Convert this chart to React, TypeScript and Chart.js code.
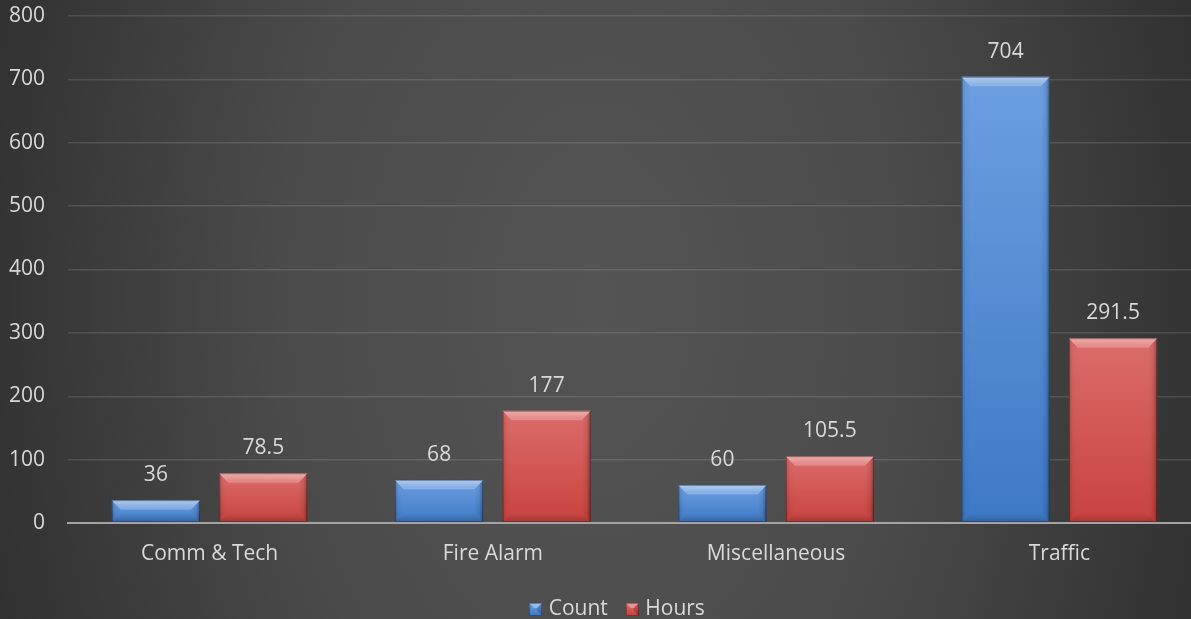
import { useEffect, useRef } from "react";
import { Chart, registerables } from "chart.js";

Chart.register(...registerables);

// Incident summary by category
const categories = ["Comm & Tech", "Fire Alarm", "Miscellaneous", "Traffic"];
const countValues = [36, 68, 60, 704];
const hoursValues = [78.5, 177, 105.5, 291.5];
const seriesNames = ["Count", "Hours"];
const yMin = 0;
const yMax = 800;
const yStep = 100;

const FONT = "'Open Sans', 'DejaVu Sans', sans-serif";
const TEXT = "#d9d9d9";
const FONT_SIZE = 21;
const CANVAS_W = 1201;
const CANVAS_H = 631;

const BLUE_TOP = "#6c9fe0";
const BLUE_BOTTOM = "#3e79c6";
const RED_TOP = "#db6d6b";
const RED_BOTTOM = "#c8423e";

// Per-bar vertical gradient, from the bar's top down to its base
function barFill(top: string, bottom: string) {
  return (ctx: any) => {
    const chart = ctx.chart;
    const y = chart.scales && chart.scales.y;
    if (ctx.type !== "data" || !y || !chart.chartArea) return bottom;
    const y0 = y.getPixelForValue(ctx.raw as number);
    const y1 = y.getPixelForValue(0);
    if (!isFinite(y0) || !isFinite(y1) || y0 === y1) return bottom;
    const g = chart.ctx.createLinearGradient(0, y0, 0, y1);
    g.addColorStop(0, top);
    g.addColorStop(1, bottom);
    return g;
  };
}

// Small bevelled square used as the legend marker
function makeMarker(top: string, bottom: string): HTMLCanvasElement {
  const s = 13;
  const c = document.createElement("canvas");
  c.width = s;
  c.height = s;
  const g = c.getContext("2d")!;
  const lg = g.createLinearGradient(0, 0, 0, s);
  lg.addColorStop(0, top);
  lg.addColorStop(1, bottom);
  g.fillStyle = lg;
  g.fillRect(0, 0, s, s);
  const b = 5;
  g.fillStyle = "rgba(255,255,255,0.35)";
  g.beginPath();
  g.moveTo(0, 0);
  g.lineTo(s, 0);
  g.lineTo(s - b, b);
  g.lineTo(b, b);
  g.closePath();
  g.fill();
  g.fillStyle = "rgba(0,0,0,0.18)";
  g.beginPath();
  g.moveTo(s, 0);
  g.lineTo(s, s);
  g.lineTo(s - b, s - b);
  g.lineTo(s - b, b);
  g.closePath();
  g.fill();
  g.strokeStyle = "rgba(0,0,0,0.35)";
  g.lineWidth = 1;
  g.strokeRect(0.5, 0.5, s - 1, s - 1);
  return c;
}

const backgroundPlugin = {
  id: "darkBackdrop",
  beforeDraw(chart: any) {
    const ctx = chart.ctx as CanvasRenderingContext2D;
    ctx.save();
    ctx.fillStyle = "#2c2c2c";
    ctx.fillRect(0, 0, chart.width, chart.height);
    ctx.translate(595, 300);
    ctx.scale(1, 1.6);
    const rg = ctx.createRadialGradient(0, 0, 0, 0, 0, 690);
    rg.addColorStop(0, "#545454");
    rg.addColorStop(0.45, "#4b4b4b");
    rg.addColorStop(1, "#2c2c2c");
    ctx.fillStyle = rg;
    ctx.fillRect(-700, -400, 1400, 800);
    ctx.restore();
  },
};

// Nudges the legend block right and up a little under the plot
const legendOffsetPlugin = {
  id: "legendOffset",
  afterLayout(chart: any) {
    const l = chart.legend;
    if (!l) return;
    l.left += 37;
    l.top -= 1;
    l.bottom -= 1;
  },
};

const bevelPlugin = {
  id: "bevelBars",
  afterDatasetsDraw(chart: any) {
    const ctx = chart.ctx as CanvasRenderingContext2D;
    chart.data.datasets.forEach((ds: any, di: number) => {
      const meta = chart.getDatasetMeta(di);
      if (meta.hidden) return;
      meta.data.forEach((el: any, i: number) => {
        const { x, y, base, width } = el.getProps(["x", "y", "base", "width"], true);
        const x0 = x - width / 2;
        const x1 = x + width / 2;
        const top = Math.min(y, base);
        const bot = Math.max(y, base);
        const b = Math.min(9, (bot - top) / 2);
        ctx.save();
        // top facet
        const tg = ctx.createLinearGradient(0, top, 0, top + b);
        tg.addColorStop(0, "rgba(255,255,255,0.45)");
        tg.addColorStop(1, "rgba(255,255,255,0.18)");
        ctx.fillStyle = tg;
        ctx.beginPath();
        ctx.moveTo(x0, top);
        ctx.lineTo(x1, top);
        ctx.lineTo(x1 - b, top + b);
        ctx.lineTo(x0 + b, top + b);
        ctx.closePath();
        ctx.fill();
        // right facet
        const rg = ctx.createLinearGradient(x1, 0, x1 - b, 0);
        rg.addColorStop(0, "rgba(0,0,0,0.34)");
        rg.addColorStop(0.45, "rgba(0,0,0,0.08)");
        rg.addColorStop(1, "rgba(0,0,0,0)");
        ctx.fillStyle = rg;
        ctx.beginPath();
        ctx.moveTo(x1, top);
        ctx.lineTo(x1, bot);
        ctx.lineTo(x1 - b, bot - b);
        ctx.lineTo(x1 - b, top + b);
        ctx.closePath();
        ctx.fill();
        // left facet
        const lg = ctx.createLinearGradient(x0, 0, x0 + b, 0);
        lg.addColorStop(0, "rgba(0,0,0,0.16)");
        lg.addColorStop(0.45, "rgba(0,0,0,0.03)");
        lg.addColorStop(1, "rgba(0,0,0,0)");
        ctx.fillStyle = lg;
        ctx.beginPath();
        ctx.moveTo(x0, top);
        ctx.lineTo(x0 + b, top + b);
        ctx.lineTo(x0 + b, bot - b);
        ctx.lineTo(x0, bot);
        ctx.closePath();
        ctx.fill();
        // bottom facet
        const bg = ctx.createLinearGradient(0, bot - b, 0, bot);
        bg.addColorStop(0, "rgba(0,0,0,0)");
        bg.addColorStop(1, "rgba(0,0,0,0.18)");
        ctx.fillStyle = bg;
        ctx.beginPath();
        ctx.moveTo(x0, bot);
        ctx.lineTo(x1, bot);
        ctx.lineTo(x1 - b, bot - b);
        ctx.lineTo(x0 + b, bot - b);
        ctx.closePath();
        ctx.fill();
        // facet edges
        ctx.strokeStyle = "rgba(255,255,255,0.18)";
        ctx.lineWidth = 1;
        ctx.beginPath();
        ctx.moveTo(x0 + 0.5, top + 0.5);
        ctx.lineTo(x0 + b, top + b);
        ctx.lineTo(x1 - b, top + b);
        ctx.lineTo(x1 - 0.5, top + 0.5);
        ctx.stroke();
        // outline
        ctx.strokeStyle = "rgba(0,0,0,0.35)";
        ctx.strokeRect(x0 + 0.5, top + 0.5, width - 1, bot - top - 1);
        ctx.restore();

        // value label
        const v = ds.data[i];
        ctx.save();
        ctx.fillStyle = TEXT;
        ctx.font = `${FONT_SIZE}px ${FONT}`;
        ctx.textAlign = "center";
        ctx.textBaseline = "middle";
        ctx.fillText(String(v), x, top - 25);
        ctx.restore();
      });
    });
  },
};

export default function App() {
  const canvasRef = useRef<HTMLCanvasElement | null>(null);

  useEffect(() => {
    const canvas = canvasRef.current;
    if (!canvas) return;
    const markers = [makeMarker(BLUE_TOP, BLUE_BOTTOM), makeMarker(RED_TOP, RED_BOTTOM)];
    const chart = new Chart(canvas, {
      type: "bar",
      data: {
        labels: categories,
        datasets: [
          {
            label: seriesNames[0],
            data: countValues,
            backgroundColor: barFill(BLUE_TOP, BLUE_BOTTOM) as any,
            borderWidth: 0,
            categoryPercentage: 0.759,
            barPercentage: 0.82,
          },
          {
            label: seriesNames[1],
            data: hoursValues,
            backgroundColor: barFill(RED_TOP, RED_BOTTOM) as any,
            borderWidth: 0,
            categoryPercentage: 0.759,
            barPercentage: 0.82,
          },
        ],
      },
      options: {
        responsive: false,
        animation: false,
        layout: { padding: { top: 16, left: 0, right: 0, bottom: 0 } },
        plugins: {
          tooltip: { enabled: false },
          legend: {
            position: "bottom",
            labels: {
              color: TEXT,
              font: { family: FONT, size: FONT_SIZE },
              usePointStyle: true,
              pointStyleWidth: 5,
              boxHeight: 13,
              padding: 22,
              generateLabels: (c: any) =>
                Chart.defaults.plugins.legend.labels
                  .generateLabels(c)
                  .map((item: any, idx: number) => ({ ...item, pointStyle: markers[idx] })),
            },
          },
        },
        scales: {
          x: {
            grid: { display: false, drawTicks: false },
            border: { display: true, color: "#a3a3a3", width: 2, z: 1 },
            ticks: { color: TEXT, font: { family: FONT, size: FONT_SIZE }, padding: 18 },
            afterFit: (s: any) => {
              s.height = 55;
            },
          },
          y: {
            min: yMin,
            max: yMax,
            ticks: { stepSize: yStep, color: TEXT, font: { family: FONT, size: FONT_SIZE }, padding: 23 },
            grid: { color: "rgba(255,255,255,0.12)", lineWidth: 1.5, drawTicks: false },
            border: { display: false },
            afterFit: (s: any) => {
              s.width = 68;
              s.paddingTop = 0;
              s.paddingBottom = 0;
            },
          },
        },
      },
      plugins: [backgroundPlugin, legendOffsetPlugin, bevelPlugin],
    });
    return () => chart.destroy();
  }, []);

  return (
    <div
      style={{
        position: "fixed",
        left: 0,
        top: 0,
        width: 1191,
        height: 619,
        overflow: "hidden",
        background: "#2c2c2c",
      }}
    >
      <canvas
        ref={canvasRef}
        width={CANVAS_W}
        height={CANVAS_H}
        style={{ display: "block", width: CANVAS_W, height: CANVAS_H }}
      />
    </div>
  );
}
